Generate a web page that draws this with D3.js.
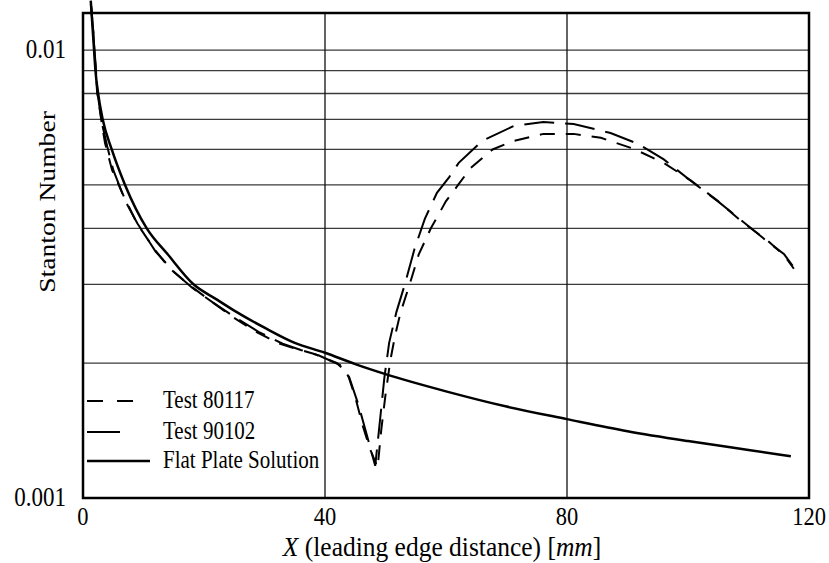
<!DOCTYPE html>
<html>
<head>
<meta charset="utf-8">
<script src="https://cdn.jsdelivr.net/npm/d3@7"></script>
<style>
  body { margin: 0; background: #fff; }
  text { font-family: "Liberation Serif", "Times New Roman", serif; fill: #000; }
</style>
</head>
<body>
<div id="chart"></div>
<script>
// flat plate solution
var flatX = [1.28, 1.83, 2.06, 2.5, 3.26, 4.75, 6.95, 10.54, 14, 18.26, 22, 25, 30, 35, 40, 45, 50, 60, 70, 80, 90, 100, 110, 117];
var flatSt = [0.0129, 0.01, 0.009, 0.008, 0.007, 0.006, 0.005, 0.004, 0.0035, 0.003, 0.00278, 0.00262, 0.0024, 0.00222, 0.00211, 0.00199, 0.00189, 0.00173, 0.0016, 0.0015, 0.00141, 0.00134, 0.00128, 0.00124];

// Test 80117 (short dashes)
var t80117X = [1.3, 1.66, 2.32, 3.14, 3.64, 4.8, 6.79, 8.94, 11.75, 14.4, 17.7, 21.0, 24.3, 28.1, 32.1, 34.8, 38.1, 42.0, 43.7, 45.0, 46.3, 47.5, 48.7, 49.3, 50.0, 50.8, 51.6, 52.5, 54, 55.5, 57.5, 60, 62, 64.1, 67.7, 71.2, 76.1, 81.1, 85.6, 91, 96, 100.5, 104.9, 108.7, 113.2, 115.9, 117.5];
var t80117St = [0.0127, 0.0112, 0.0081, 0.0068, 0.0062, 0.0054, 0.0047, 0.0041, 0.0036, 0.00325, 0.00298, 0.00276, 0.00256, 0.00237, 0.00222, 0.00216, 0.0021, 0.002, 0.0019, 0.00168, 0.00144, 0.00128, 0.00117, 0.00142, 0.0017, 0.00203, 0.00231, 0.0026, 0.003, 0.0035, 0.004, 0.0046, 0.005, 0.00546, 0.006, 0.00627, 0.0065, 0.0065, 0.00637, 0.00602, 0.0056, 0.00511, 0.00461, 0.00416, 0.00375, 0.00348, 0.00325];

// Test 90102 (long dashes)
var t90102X = [1.3, 1.7, 2.4, 3.2, 4.0, 5.0, 7.0, 9.0, 12.0, 15.0, 18.0, 21.5, 25.0, 29.0, 33.0, 36.0, 39.0, 42.5, 44.0, 45.5, 46.8, 48.3, 49.0, 49.8, 50.6, 51.8, 53.2, 54.8, 56.5, 58.5, 60.5, 62.1, 66, 71.2, 76.1, 81.1, 87.2, 91.7, 96, 100.5, 104.9, 108.7, 113.2, 115.9, 117.3];
var t90102St = [0.0127, 0.011, 0.008, 0.0068, 0.0061, 0.0054, 0.0046, 0.0041, 0.00355, 0.0032, 0.00295, 0.00273, 0.00254, 0.00235, 0.00221, 0.00214, 0.00208, 0.00198, 0.00186, 0.00162, 0.0014, 0.00118, 0.00145, 0.00185, 0.00222, 0.0026, 0.003, 0.0036, 0.0042, 0.0048, 0.0052, 0.0056, 0.00627, 0.00677, 0.00691, 0.00684, 0.00653, 0.00618, 0.0057, 0.0051, 0.0046, 0.00418, 0.00373, 0.0035, 0.0033];

var xTicks = [0, 40, 80, 120];
var yGrid = [0.002, 0.003, 0.004, 0.005, 0.006, 0.007, 0.008, 0.009, 0.01];
var yTickLabels = [0.001, 0.01];
var legendNames = ["Test 80117", "Test 90102", "Flat Plate Solution"];

var width = 829, height = 563;
var margin = { left: 83, right: 809, top: 13, bottom: 498 };
var stretch = 1.15; // the scanned text is a bit taller than wide

var svg = d3.select("#chart").append("svg")
  .attr("width", width)
  .attr("height", height);

var x = d3.scaleLinear().domain([0, 120]).range([margin.left, margin.right]);
var y = d3.scaleLog().domain([0.001, 0.0121]).range([margin.bottom, margin.top]);

// put a text at (px,py), stretched vertically
function label(px, py, size, anchor, sy) {
  return svg.append("text")
    .attr("transform", "translate(" + px + "," + py + ") scale(1," + (sy || stretch) + ")")
    .attr("text-anchor", anchor)
    .attr("font-size", size);
}

// gridlines
svg.append("g").selectAll("line").data(yGrid).enter().append("line")
  .attr("x1", margin.left).attr("x2", margin.right)
  .attr("y1", function (d) { return y(d); })
  .attr("y2", function (d) { return y(d); })
  .attr("stroke", "#3a3a3a").attr("stroke-width", 1.3);

svg.append("g").selectAll("line").data([40, 80]).enter().append("line")
  .attr("x1", function (d) { return x(d); })
  .attr("x2", function (d) { return x(d); })
  .attr("y1", margin.top).attr("y2", margin.bottom)
  .attr("stroke", "#111").attr("stroke-width", 1.3);

// frame
svg.append("rect")
  .attr("x", margin.left).attr("y", margin.top)
  .attr("width", margin.right - margin.left).attr("height", margin.bottom - margin.top)
  .attr("fill", "none").attr("stroke", "#000").attr("stroke-width", 2.5);

// tick labels
xTicks.forEach(function (d) {
  label(x(d), 525, 22.5, "middle").text(d);
});
yTickLabels.forEach(function (d) {
  label(66, y(d) + 8, 23, "end").text(d);
});

// axis titles
svg.append("text")
  .attr("transform", "translate(55,202) scale(1," + stretch + ") rotate(-90)")
  .attr("text-anchor", "middle")
  .attr("font-size", 24)
  .text("Stanton Number");

var xt = label(442, 556, 25.5, "middle", 1.05);
xt.append("tspan").attr("font-style", "italic").text("X");
xt.append("tspan").text(" (leading edge distance) [");
xt.append("tspan").attr("font-style", "italic").text("mm");
xt.append("tspan").text("]");

// lines
var line = d3.line()
  .x(function (d) { return x(d[0]); })
  .y(function (d) { return y(d[1]); });

var series = [
  { pts: d3.zip(t80117X, t80117St), dash: "15,11", w: 2, curve: d3.curveLinear },
  { pts: d3.zip(t90102X, t90102St), dash: "30,11", w: 2, curve: d3.curveLinear },
  { pts: d3.zip(flatX, flatSt), dash: null, w: 2.5, curve: d3.curveMonotoneX }
];

series.forEach(function (s) {
  svg.append("path")
    .datum(s.pts)
    .attr("fill", "none")
    .attr("stroke", "#000")
    .attr("stroke-width", s.w)
    .attr("stroke-dasharray", s.dash)
    .attr("d", line.curve(s.curve));
});

// legend
var legY = [401, 432, 461];
var legLen = [48, 33, 63];
var legDash = ["16,14", null, null];
legendNames.forEach(function (n, i) {
  svg.append("line")
    .attr("x1", 87).attr("x2", 87 + legLen[i])
    .attr("y1", legY[i]).attr("y2", legY[i])
    .attr("stroke", "#000").attr("stroke-width", i == 2 ? 2.5 : 2)
    .attr("stroke-dasharray", legDash[i]);
  label(163, legY[i] + 7, 21, "start").text(n);
});
</script>
</body>
</html>
